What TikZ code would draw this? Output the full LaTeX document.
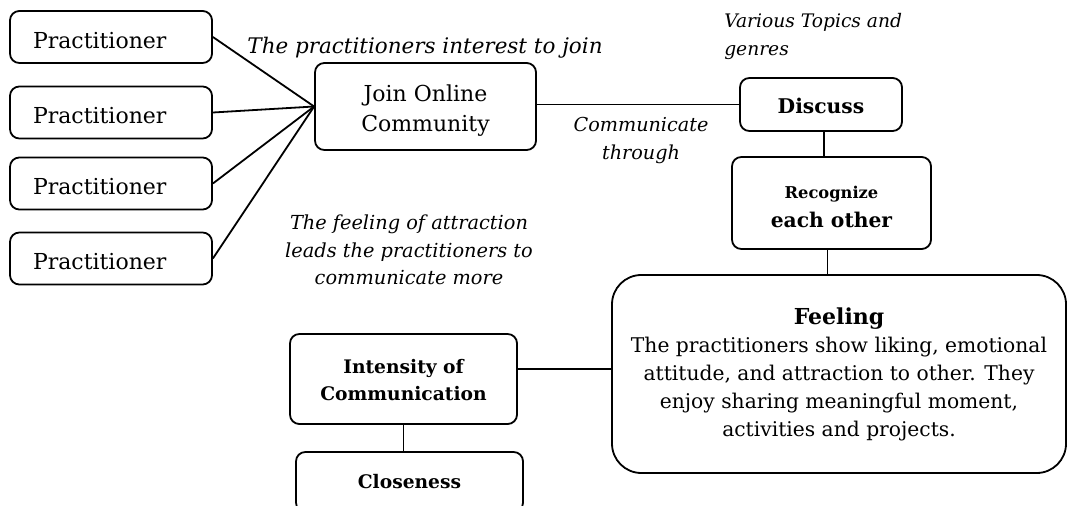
\documentclass[tikz,border=0pt]{standalone}
\usepackage{fontspec}
\setmainfont{DejaVu Serif}
\begin{document}
\begin{tikzpicture}[x=0.75pt,y=-0.75pt,
  box/.style={draw,line width=1.35pt,rounded corners=7pt,inner sep=0pt,align=center},
  prac/.style={box,minimum width=151.5pt,minimum height=39pt,text width=117pt,inner xsep=17.25pt,align=left,
    text height=17pt,text depth=0pt,font=\fontsize{16.5}{20}\selectfont},
  conn/.style={line width=1.35pt},
  lab/.style={font=\itshape\fontsize{14.4}{21}\selectfont,align=center,inner sep=0pt}]
\clip (0,0) rectangle (1070,506);
\fill[white] (0,0) rectangle (1070,506);

\node[prac] (p1) at (111,37) {Practitioner};
\node[prac] (p2) at (111,112.5) {Practitioner};
\node[prac] (p3) at (111,183.5) {Practitioner};
\node[prac] (p4) at (111,258.5) {Practitioner};

\node[box,minimum width=165.75pt,minimum height=65.25pt,font=\fontsize{16.5}{22.5}\selectfont]
  (join) at (425.5,106.5) {\rule{0pt}{18.5pt}Join Online\\Community};

\node[box,minimum width=121.5pt,minimum height=39.75pt,font=\bfseries\fontsize{15.2}{20}\selectfont,
  text height=14pt,text depth=0pt]
  (discuss) at (821,104.5) {Discuss};

\node[box,minimum width=149.25pt,minimum height=69pt,font=\bfseries\fontsize{15.2}{21.75}\selectfont]
  (recog) at (831.5,203) {{\fontsize{12.2}{21.75}\selectfont\rule{0pt}{15pt}Recognize}\\each other};

\node[box,rounded corners=22pt,minimum width=340.5pt,minimum height=148.5pt,font=\fontsize{15.2}{20.8}\selectfont]
  (feel) at (839,374) {{\bfseries\fontsize{16.5}{20.8}\selectfont Feeling}\\[0.9pt]
  The practitioners show liking, emotional\\attitude, and attraction to other. They\\enjoy sharing meaningful moment,\\activities and projects.};

\node[box,minimum width=170.25pt,minimum height=67.5pt,font=\bfseries\fontsize{14}{20.25}\selectfont]
  (inten) at (403.5,379) {\rule{0pt}{12.5pt}Intensity of\\Communication};

\node[box,minimum width=170.25pt,minimum height=45pt,font=\bfseries\fontsize{14}{20}\selectfont]
  (close) at (409.5,482) {Closeness};

\node[lab,font=\itshape\fontsize{16.1}{20}\selectfont] (l1) at (425,48) {The practitioners interest to join};
\node[lab,align=left,anchor=west,font=\itshape\fontsize{14}{21}\selectfont] (l2) at (724,36) {Various Topics and\\genres};
\node[lab] (l3) at (641,141) {Communicate\\through};
\node[lab,font=\itshape\fontsize{14.5}{20.6}\selectfont] (l4) at (409,250) {The feeling of attraction\\leads the practitioners to\\communicate more};

\draw[conn] (p1.east) -- (join.west);
\draw[conn] (p2.east) -- (join.west);
\draw[conn] (p3.east) -- (join.west);
\draw[conn] (p4.east) -- (join.west);
\draw[conn] ([yshift=1.5pt]join.east) -- ([yshift=1.5pt]join.east -| discuss.west);
\draw[conn] ([xshift=2pt]discuss.south) -- ([xshift=2pt]discuss.south |- recog.north);
\draw[conn] ([xshift=-3pt]recog.south) -- ([xshift=-3pt]recog.south |- feel.north);
\draw[conn] ([yshift=7.5pt]inten.east) -- ([yshift=7.5pt]inten.east -| feel.west);
\draw[conn] (inten.south) -- (inten.south |- close.north);
\end{tikzpicture}
\end{document}
